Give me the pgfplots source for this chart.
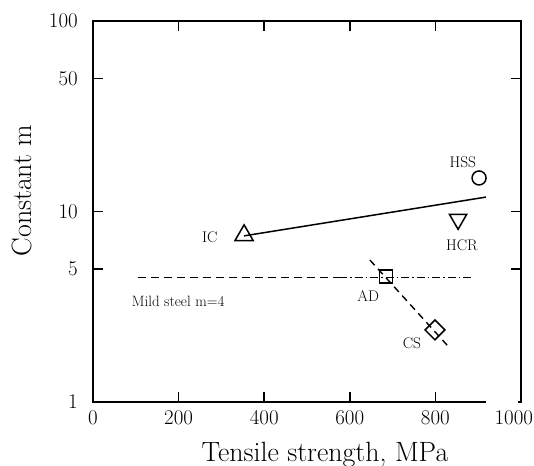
\documentclass[border=0pt]{standalone}
\usepackage{pgfplots}
\pgfplotsset{compat=1.18}
\begin{document}
\begin{tikzpicture}
\begin{axis}[
    scale only axis,
    width=428bp, height=381bp,
    xmin=0, xmax=1000,
    ymode=log, ymin=1, ymax=100,
    xtick={0,200,400,600,800,1000},
    xticklabels={0,200,400,600,800,\makebox[24bp][r]{1000}},
    ytick={1,5,10,50,100},
    yticklabels={1,5,10,50,100},
    major tick length=10bp,
    tick style={line width=1.5bp, black},
    axis line style={line width=1.8bp},
    tick label style={font=\fontsize{21}{21}\selectfont, inner sep=0pt},
    xticklabel style={anchor=north, yshift=-8bp},
    yticklabel style={anchor=east, xshift=-15bp},
    label style={font=\fontsize{28}{28}\selectfont, inner sep=0pt},
    xlabel={Tensile strength, MPa},
    ylabel={Constant m},
    xlabel style={at={(rel axis cs:0.542,0)}, anchor=base, yshift=-59bp},
    ylabel style={at={(rel axis cs:0,0.555)}, anchor=base, yshift=61bp},
    clip=false,
]
% IC - HSS trend line
\addplot[line width=1.5bp] coordinates {(353,7.45) (918,11.9)};
% mild steel m=4
\addplot[line width=1.4bp, dash pattern=on 8bp off 5bp] coordinates {(105,4.5) (575,4.5)};
\addplot[line width=1.4bp, dash pattern=on 8bp off 3bp on 1.5bp off 3bp] coordinates {(575,4.5) (888,4.5)};
% AD - CS line
\addplot[line width=1.4bp, dash pattern=on 7bp off 5bp] coordinates {(647,5.56) (829,1.97)};
% markers
\addplot[only marks, mark=triangle, mark size=10.5bp, mark options={line width=1.5bp, fill=white}] coordinates {(353,7.5)};
\addplot[only marks, mark=triangle, mark size=10bp, mark options={line width=1.5bp, fill=white, rotate=180}] coordinates {(853,9.1)};
\addplot[only marks, mark=o, mark size=7bp, mark options={line width=1.5bp, fill=white}] coordinates {(902,15.0)};
\addplot[only marks, mark=square, mark size=6.5bp, mark options={line width=1.5bp, fill=white}] coordinates {(685,4.55)};
\addplot[only marks, mark=square, mark size=7bp, mark options={line width=1.5bp, fill=white, rotate=45}] coordinates {(799,2.39)};
% labels
\node[font=\fontsize{15.5}{16}\selectfont] at (axis cs:864,18.2) {HSS};
\node[font=\fontsize{15.5}{16}\selectfont] at (axis cs:273,7.35) {IC};
\node[font=\fontsize{15.5}{16}\selectfont] at (axis cs:862,6.67) {HCR};
\node[font=\fontsize{15}{15}\selectfont] at (axis cs:199,3.39) {Mild steel m=4};
\node[font=\fontsize{15.5}{16}\selectfont] at (axis cs:643,3.6) {AD};
\node[font=\fontsize{15.5}{16}\selectfont] at (axis cs:745,2.04) {CS};
\coordinate (gapA) at (axis cs:918,1);
\coordinate (gapB) at (axis cs:994,1);
\end{axis}
\draw[white, line width=3.5bp] (gapA) -- (gapB);
\path (current axis.south west) ++(-93bp,-64bp) coordinate (bbl);
\path (current axis.north east) ++(13bp,21bp) coordinate (btr);
\pgfresetboundingbox
\path (bbl) rectangle (btr);
\end{tikzpicture}
\end{document}
